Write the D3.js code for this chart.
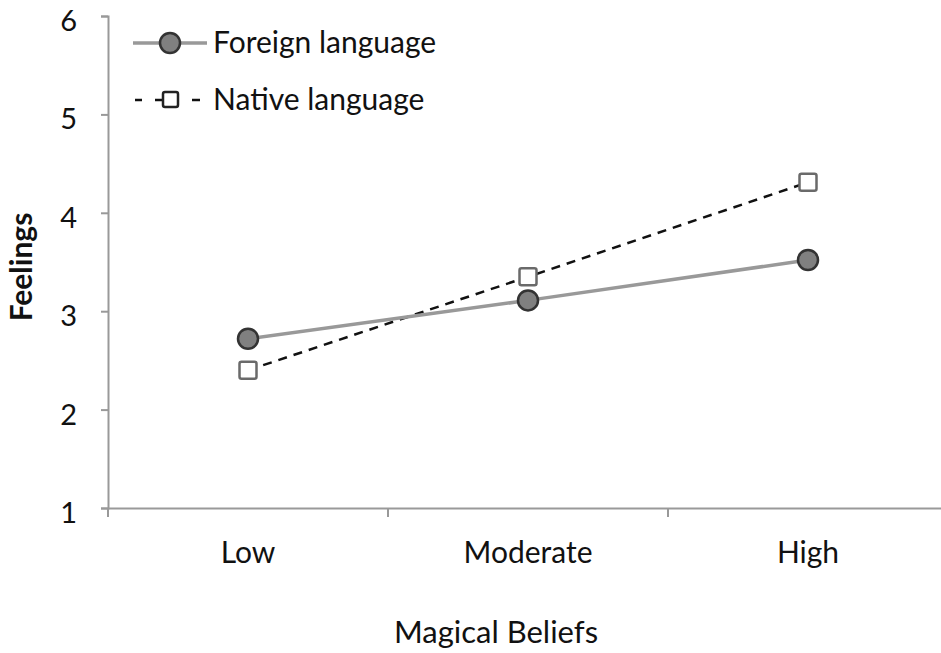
<!DOCTYPE html>
<html><head><meta charset="utf-8">
<script src="https://cdn.jsdelivr.net/npm/d3@7"></script>
<style>body{margin:0;background:#fff}svg{display:block}text{font-family:Lato,"Open Sans",sans-serif;fill:#111}</style>
</head><body><svg id="c" width="941" height="653"></svg>
<script>
const categories = ["Low", "Moderate", "High"];
const foreign = [2.72, 3.11, 3.52];
const native = [2.40, 3.35, 4.31];
const yTicks = [1, 2, 3, 4, 5, 6];
const seriesNames = ["Foreign language", "Native language"];

const svg = d3.select("#c");
const x = d3.scaleBand().domain(categories).range([108, 948]);
const y = d3.scaleLinear().domain([1, 6]).range([508, 16]);
const axisColor = "#999";
const FF = "Lato,'Open Sans',sans-serif";

// Y axis
const ya = svg.append("g").attr("transform", "translate(108,0)")
  .call(d3.axisLeft(y).tickValues(yTicks).tickFormat(d3.format("d")).tickSize(7).tickPadding(24));
ya.select(".domain").attr("stroke", axisColor).attr("stroke-width", 2);
ya.selectAll(".tick line").attr("stroke", axisColor).attr("stroke-width", 2);
ya.selectAll(".tick text").style("font-size", "29px").style("font-family", FF).attr("fill", "#111").attr("dy", "0.5em");

// X axis
const xa = svg.append("g").attr("transform", "translate(0,508)")
  .call(d3.axisBottom(x).tickSize(0));
xa.select(".domain").attr("stroke", axisColor).attr("stroke-width", 2);
xa.selectAll(".tick text").style("font-size", "30px").style("font-family", FF).attr("fill", "#111")
  .attr("y", 55).attr("dy", 0);
// boundary ticks
const bounds = categories.map(c => x(c));
svg.append("g").selectAll("line").data(bounds).join("line")
  .attr("x1", d => d).attr("x2", d => d).attr("y1", 508).attr("y2", 517)
  .attr("stroke", axisColor).attr("stroke-width", 2);

const cx = c => x(c) + x.bandwidth() / 2;

// Native line (dashed)
const line = d3.line().x((d, i) => cx(categories[i])).y(d => y(d));
svg.append("path").datum(native).attr("d", line).attr("fill", "none")
  .attr("stroke", "#111").attr("stroke-width", 2.5).attr("stroke-dasharray", "9,7");
// Foreign line (solid gray)
svg.append("path").datum(foreign).attr("d", line).attr("fill", "none")
  .attr("stroke", "#999").attr("stroke-width", 3.5);

// markers
svg.append("g").selectAll("rect").data(native).join("rect")
  .attr("x", (d, i) => cx(categories[i]) - 8.5).attr("y", d => y(d) - 8.5)
  .attr("width", 17).attr("height", 17).attr("rx", 2)
  .attr("fill", "#fff").attr("stroke", "#6a6a6a").attr("stroke-width", 2.5);
svg.append("g").selectAll("circle").data(foreign).join("circle")
  .attr("cx", (d, i) => cx(categories[i])).attr("cy", d => y(d)).attr("r", 10)
  .attr("fill", "#808080").attr("stroke", "#333").attr("stroke-width", 2.5);

// Legend
const lg = svg.append("g");
lg.append("line").attr("x1", 133).attr("x2", 207).attr("y1", 43).attr("y2", 43)
  .attr("stroke", "#999").attr("stroke-width", 3.5);
lg.append("circle").attr("cx", 170).attr("cy", 43).attr("r", 10)
  .attr("fill", "#808080").attr("stroke", "#333").attr("stroke-width", 2.5);
lg.append("text").attr("x", 213).attr("y", 53).style("font-size", "30px").text(seriesNames[0]);
[[135, 142], [155, 163], [192, 200]].forEach(s => {
  lg.append("line").attr("x1", s[0]).attr("x2", s[1]).attr("y1", 100).attr("y2", 100)
    .attr("stroke", "#111").attr("stroke-width", 2.5);
});
lg.append("rect").attr("x", 163).attr("y", 92).attr("width", 15).attr("height", 15).attr("rx", 2)
  .attr("fill", "#fff").attr("stroke", "#222").attr("stroke-width", 2.5);
lg.append("text").attr("x", 213).attr("y", 110).style("font-size", "30px").text(seriesNames[1]);

// Axis titles
svg.append("text").attr("transform", "translate(32,267) rotate(-90)")
  .attr("text-anchor", "middle").style("font-size", "30px").attr("font-weight", "bold").text("Feelings");
svg.append("text").attr("x", 496).attr("y", 643).attr("text-anchor", "middle")
  .style("font-size", "31px").text("Magical Beliefs");
</script></body></html>
